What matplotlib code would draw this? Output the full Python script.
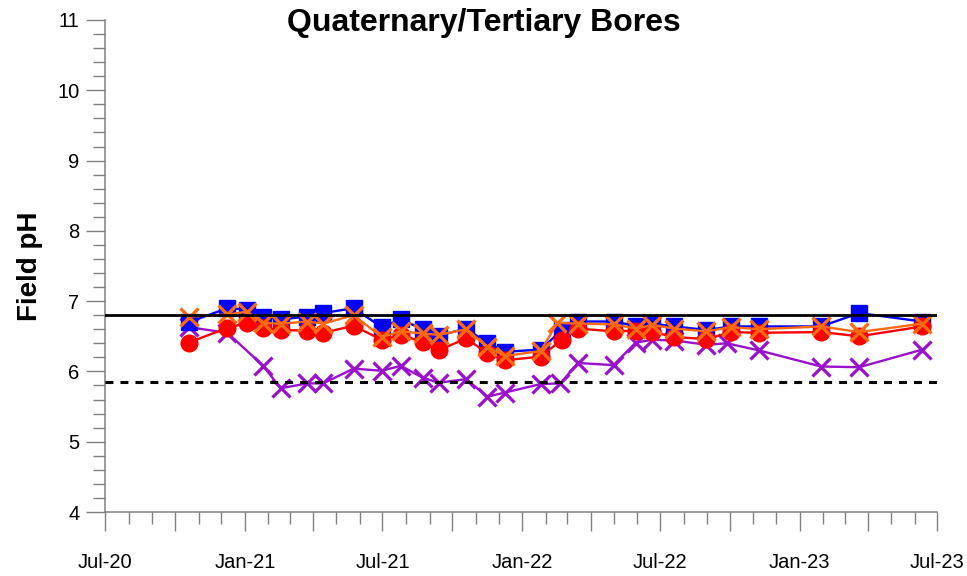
import matplotlib
matplotlib.use('Agg')
import matplotlib.pyplot as plt
import matplotlib.dates as mdates
from matplotlib.ticker import MultipleLocator, FuncFormatter
import pandas as pd

plt.rcParams['font.family'] = ['Liberation Sans', 'DejaVu Sans']

# sampling dates (blue / red bores)
dates_main = ['2020-10-19', '2020-12-09', '2021-01-04', '2021-01-25', '2021-02-17',
              '2021-03-24', '2021-04-14', '2021-05-24', '2021-06-30', '2021-07-25',
              '2021-08-23', '2021-09-13', '2021-10-19', '2021-11-16', '2021-12-09',
              '2022-01-25', '2022-02-22', '2022-03-15', '2022-05-01', '2022-05-30',
              '2022-06-21', '2022-07-20', '2022-08-31', '2022-10-03', '2022-11-08',
              '2023-01-29', '2023-03-20', '2023-06-11']
dates_orange = dates_main[:16] + ['2022-02-16'] + dates_main[17:]
dates_purple = ['2020-10-19', '2020-12-09', '2021-01-25', '2021-02-17', '2021-03-24',
                '2021-04-14', '2021-05-24', '2021-06-30', '2021-07-25', '2021-08-23',
                '2021-09-13', '2021-10-19', '2021-11-16', '2021-12-09', '2022-01-25',
                '2022-02-20', '2022-03-15', '2022-05-01', '2022-05-30', '2022-06-21',
                '2022-07-20', '2022-08-31', '2022-09-27', '2022-11-08', '2023-01-29',
                '2023-03-20', '2023-06-11']

ph_blue = [6.70, 6.90, 6.88, 6.78, 6.74, 6.78, 6.83, 6.90, 6.63, 6.74,
           6.60, 6.51, 6.61, 6.41, 6.28, 6.31, 6.59, 6.71, 6.71, 6.65,
           6.68, 6.64, 6.59, 6.64, 6.64, 6.64, 6.83, 6.71]
ph_orange = [6.78, 6.81, 6.85, 6.69, 6.68, 6.71, 6.68, 6.80, 6.49, 6.57,
             6.54, 6.52, 6.60, 6.35, 6.22, 6.29, 6.69, 6.68, 6.67, 6.61,
             6.66, 6.61, 6.57, 6.63, 6.60, 6.64, 6.56, 6.68]
ph_red = [6.41, 6.62, 6.69, 6.62, 6.59, 6.58, 6.55, 6.65, 6.45, 6.52,
          6.42, 6.30, 6.47, 6.26, 6.16, 6.21, 6.45, 6.61, 6.57, 6.58,
          6.56, 6.49, 6.46, 6.56, 6.55, 6.56, 6.50, 6.64]
ph_purple = [6.63, 6.55, 6.08, 5.76, 5.83, 5.83, 6.04, 6.01, 6.08, 5.91,
             5.84, 5.89, 5.64, 5.70, 5.82, 5.83, 6.12, 6.09, 6.41, 6.45,
             6.44, 6.38, 6.40, 6.30, 6.07, 6.06, 6.31]

trigger_upper = 6.8
trigger_lower = 5.85

fig = plt.figure(figsize=(9.67, 5.76), dpi=100)
ax = fig.add_axes([0.1086, 0.1111, 0.8608, 0.8542])

ax.plot(pd.to_datetime(dates_purple), ph_purple, '-x', color='#9A10CC', lw=1.7,
        ms=12.5, mew=2.3, zorder=2)
ax.plot(pd.to_datetime(dates_main), ph_blue, '-s', color='#0000FF', lw=1.7,
        ms=11.5, zorder=3)
ax.plot(pd.to_datetime(dates_main), ph_red, '-o', color='#FF0000', lw=1.7,
        ms=12, zorder=4)
ax.plot(pd.to_datetime(dates_orange), ph_orange, '-x', color='#FF6A10', lw=1.7,
        ms=13, mew=2.4, zorder=5)

ax.axhline(trigger_upper, color='black', lw=2.0, zorder=6)
ax.axhline(trigger_lower, color='black', lw=2.2, ls=(0, (2.6, 2.3)), zorder=6)

ax.set_xlim(pd.Timestamp('2020-07-01'), pd.Timestamp('2023-07-01'))
ax.set_ylim(4, 11)

# x ticks: quarterly long ticks, monthly short ticks, labels every 6 months
ax.xaxis.set_major_locator(mdates.MonthLocator(bymonth=[1, 4, 7, 10]))
ax.xaxis.set_minor_locator(mdates.MonthLocator())


def fmt_month(x, pos):
    d = mdates.num2date(x)
    if d.month in (1, 7):
        return d.strftime('%b-%y')
    return ''


ax.xaxis.set_major_formatter(FuncFormatter(fmt_month))
ax.yaxis.set_major_locator(MultipleLocator(1))
ax.yaxis.set_minor_locator(MultipleLocator(0.2))

grey = '#808080'
for side in ['top', 'right']:
    ax.spines[side].set_visible(False)
for side in ['left', 'bottom']:
    ax.spines[side].set_color(grey)
    ax.spines[side].set_linewidth(1.1)

ax.tick_params(which='major', direction='out', length=13.5, width=1.0, color=grey,
               labelsize=14.5)
ax.tick_params(which='minor', direction='out', length=8.5, width=1.0, color=grey)
ax.tick_params(axis='x', which='major', pad=16)
ax.tick_params(axis='y', which='major', pad=5)

ax.set_ylabel('Field pH', fontsize=20, fontweight='bold')
ax.yaxis.set_label_coords(-0.075, 0.5)
fig.text(0.5, 1 - 23 / 576, 'Quaternary/Tertiary Bores', ha='center', va='center',
         fontsize=23, fontweight='bold')

plt.savefig('out.png', dpi=100)
